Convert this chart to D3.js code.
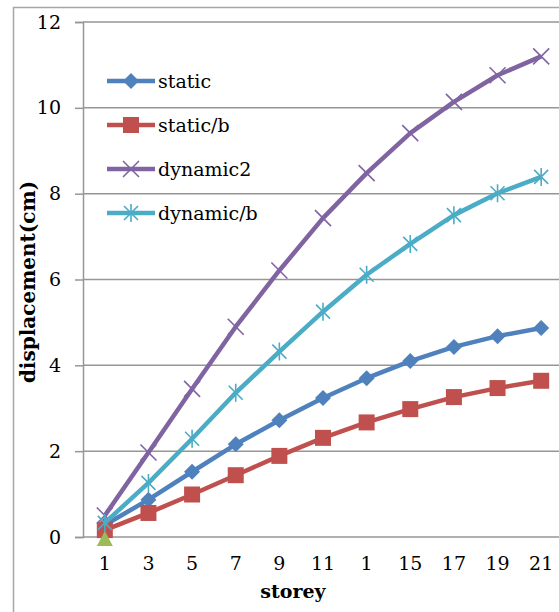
<!DOCTYPE html>
<html>
<head>
<meta charset="utf-8">
<script src="https://cdn.jsdelivr.net/npm/d3@7"></script>
<style>
  html, body { margin: 0; padding: 0; background: #fff; }
  svg { display: block; font-family: "DejaVu Serif", serif; }
</style>
</head>
<body>
<svg id="chart" width="559" height="612"></svg>
<script>
// Storey labels along the x axis (as printed on the chart)
const storeys = ["1", "3", "5", "7", "9", "11", "1", "15", "17", "19", "21"];
// Displacement in cm for each series
const staticVals   = [0.28, 0.87, 1.52, 2.16, 2.72, 3.24, 3.70, 4.10, 4.43, 4.68, 4.87];
const staticB      = [0.16, 0.56, 0.99, 1.44, 1.89, 2.31, 2.67, 2.98, 3.26, 3.47, 3.64];
const dynamic2     = [0.50, 1.97, 3.45, 4.90, 6.21, 7.43, 8.48, 9.41, 10.14, 10.76, 11.20];
const dynamicB     = [0.33, 1.26, 2.29, 3.36, 4.32, 5.25, 6.11, 6.83, 7.50, 8.01, 8.39];
const baseVals     = [0];
const yTicks = [0, 2, 4, 6, 8, 10, 12];

const series = [
  { name: "static",    values: staticVals, color: "#4F81BD", marker: "diamond" },
  { name: "static/b",  values: staticB,    color: "#C0504D", marker: "square" },
  { name: "dynamic2",  values: dynamic2,   color: "#8064A2", marker: "cross" },
  { name: "dynamic/b", values: dynamicB,   color: "#4BACC6", marker: "star" }
];

const svg = d3.select("#chart");
const plot = { left: 83, top: 22, right: 563, bottom: 537 };

const x = d3.scaleBand()
  .domain(d3.range(storeys.length))
  .range([plot.left, plot.right]);
const y = d3.scaleLinear().domain([0, 12]).range([plot.bottom, plot.top]);
const cx = i => x(i) + x.bandwidth() / 2;

// outer chart frame
svg.append("rect")
  .attr("x", 13.5).attr("y", 7.5)
  .attr("width", 600).attr("height", 700)
  .attr("fill", "none").attr("stroke", "#a6a6a6").attr("stroke-width", 1.5);

// horizontal gridlines
svg.append("g").selectAll("line").data(yTicks).join("line")
  .attr("x1", plot.left).attr("x2", 559)
  .attr("y1", d => y(d)).attr("y2", d => y(d))
  .attr("stroke", "#969696").attr("stroke-width", 1.5);

// y axis with tick marks
const yAxis = d3.axisLeft(y).tickValues(yTicks).tickSize(8).tickPadding(14)
  .tickFormat(d3.format("d"));
const gy = svg.append("g").attr("transform", `translate(${plot.left},0)`).call(yAxis);
gy.select(".domain").attr("stroke", "#969696").attr("stroke-width", 1.5);
gy.selectAll(".tick line").attr("stroke", "#969696").attr("stroke-width", 1.5);
gy.selectAll(".tick text").attr("font-family", "DejaVu Serif").attr("font-size", 19)
  .attr("fill", "#000");

// x axis labels
const xAxis = d3.axisBottom(x).tickSize(0).tickPadding(20).tickFormat(i => storeys[i]);
const gx = svg.append("g").attr("transform", `translate(0,${plot.bottom})`).call(xAxis);
gx.select(".domain").remove();
gx.selectAll(".tick text").attr("font-family", "DejaVu Serif").attr("font-size", 19)
  .attr("fill", "#000");

// axis titles
svg.append("text")
  .attr("x", 293).attr("y", 598)
  .attr("text-anchor", "middle")
  .attr("font-family", "DejaVu Serif").attr("font-weight", "bold").attr("font-size", 19)
  .text("storey");
svg.append("text")
  .attr("transform", "translate(35,282) rotate(-90)")
  .attr("text-anchor", "middle")
  .attr("font-family", "DejaVu Serif").attr("font-weight", "bold").attr("font-size", 20)
  .text("displacement(cm)");

function drawMarker(g, type, color) {
  if (type === "diamond") {
    g.append("path").attr("d", "M0,-8L8,0L0,8L-8,0Z").attr("fill", color);
  } else if (type === "square") {
    g.append("rect").attr("x", -8).attr("y", -8).attr("width", 16).attr("height", 16)
      .attr("fill", color);
  } else if (type === "cross") {
    g.append("path").attr("d", "M-8,-8L8,8M-8,8L8,-8")
      .attr("stroke", color).attr("stroke-width", 1.6).attr("fill", "none");
  } else if (type === "star") {
    g.append("path").attr("d", "M-7,-7L7,7M-7,7L7,-7M0,-9L0,9")
      .attr("stroke", color).attr("stroke-width", 1.6).attr("fill", "none");
  } else if (type === "triangle") {
    g.append("path").attr("d", "M0,-8L8,7L-8,7Z").attr("fill", color);
  }
}

const line = d3.line().x((d, i) => cx(i)).y(d => y(d));

// series lines and markers
series.forEach(s => {
  svg.append("path").datum(s.values)
    .attr("d", line)
    .attr("fill", "none").attr("stroke", s.color).attr("stroke-width", 4.5)
    .attr("stroke-linejoin", "round");
  s.values.forEach((v, i) => {
    const g = svg.append("g").attr("transform", `translate(${cx(i)},${y(v)})`);
    drawMarker(g, s.marker, s.color);
  });
});

// single-point base series
baseVals.forEach((v, i) => {
  const g = svg.append("g").attr("transform", `translate(${cx(i)},${y(v) + 2})`);
  drawMarker(g, "triangle", "#9BBB59");
});

// legend
const legend = svg.append("g");
series.forEach((s, k) => {
  const ly = 81 + k * 44;
  const g = legend.append("g").attr("transform", `translate(0,${ly})`);
  g.append("line").attr("x1", 107).attr("x2", 155).attr("y1", 0).attr("y2", 0)
    .attr("stroke", s.color).attr("stroke-width", 4.5);
  const m = g.append("g").attr("transform", "translate(131,0)");
  drawMarker(m, s.marker, s.color);
  g.append("text").attr("x", 158).attr("y", 0).attr("dy", "0.35em")
    .attr("font-family", "DejaVu Serif").attr("font-size", 19)
    .text(s.name);
});
</script>
</body>
</html>
